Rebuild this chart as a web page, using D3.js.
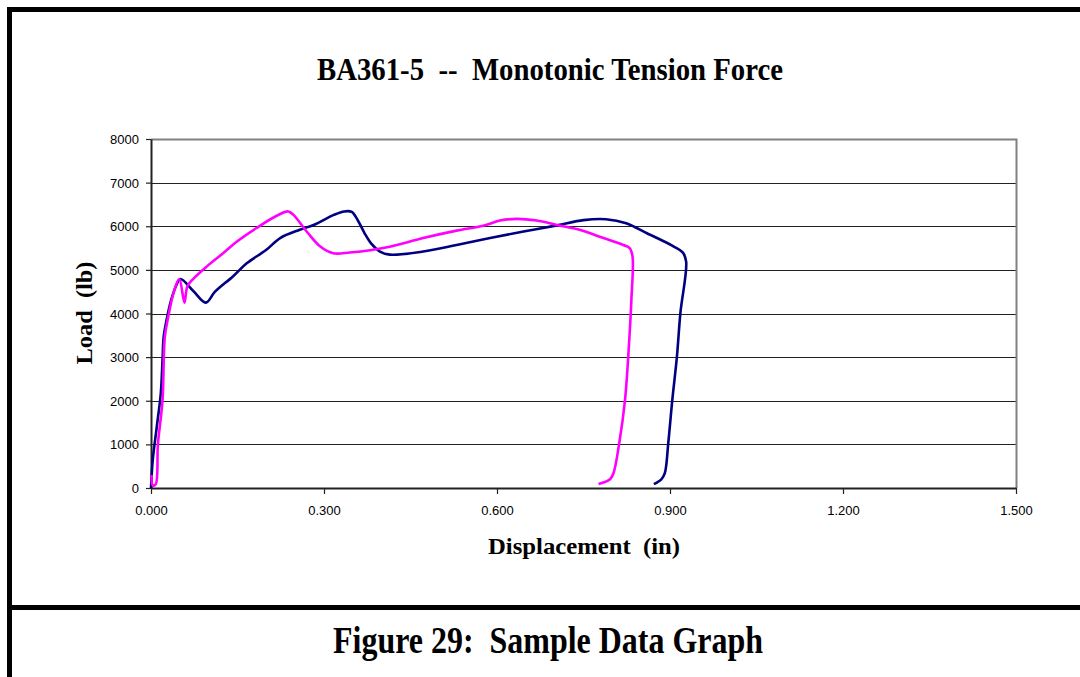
<!DOCTYPE html>
<html>
<head>
<meta charset="utf-8">
<script src="https://cdn.jsdelivr.net/npm/d3@7"></script>
<style>
  body { margin: 0; background: #fff; }
  svg { display: block; }
  text { white-space: pre; }
</style>
</head>
<body>
<div id="box"></div>
<script>
// Navy curve (first specimen)
var dispNavy = [0.000, 0.003, 0.010, 0.017, 0.020, 0.022, 0.027, 0.035, 0.043, 0.051, 0.073, 0.095,
    0.111, 0.142, 0.166, 0.200, 0.224, 0.258, 0.282, 0.317, 0.335, 0.348, 0.358, 0.370, 0.382,
    0.397, 0.414, 0.472, 0.530, 0.588, 0.646, 0.704, 0.750, 0.789, 0.824, 0.860, 0.906, 0.922,
    0.928, 0.918, 0.912, 0.904, 0.897, 0.891, 0.885, 0.872];
var loadNavy = [0, 640, 1400, 2170, 2940, 3470, 3850, 4310, 4620, 4790, 4520, 4250,
    4500, 4850, 5150, 5460, 5730, 5920, 6030, 6260, 6340, 6330, 6150, 5850, 5600,
    5420, 5350, 5420, 5570, 5730, 5880, 6020, 6140, 6160, 6070, 5840, 5540, 5400,
    5190, 4010, 3010, 2020, 1030, 340, 200, 90];

// Magenta curve (second specimen)
var dispPink = [0.001, 0.003, 0.008, 0.012, 0.020, 0.024, 0.030, 0.039, 0.049, 0.058, 0.063, 0.073,
    0.097, 0.125, 0.149, 0.183, 0.218, 0.238, 0.247, 0.270, 0.293, 0.316, 0.345, 0.380, 0.414,
    0.472, 0.530, 0.576, 0.605, 0.634, 0.669, 0.704, 0.743, 0.778, 0.819, 0.830, 0.835, 0.833,
    0.829, 0.822, 0.812, 0.802, 0.796, 0.776];
var loadPink = [300, 60, 80, 1000, 2020, 3470, 3930, 4465, 4790, 4250, 4620, 4790,
    5080, 5380, 5650, 5960, 6240, 6340, 6260, 5880, 5540, 5380, 5400, 5450, 5530,
    5730, 5900, 6010, 6130, 6170, 6130, 6030, 5920, 5760, 5570, 5500, 5310, 4310,
    3320, 2020, 1030, 340, 200, 90];

var xTicks = [0, 0.3, 0.6, 0.9, 1.2, 1.5];
var yTicks = [0, 1000, 2000, 3000, 4000, 5000, 6000, 7000, 8000];

var chartTitle = "BA361-5  --  Monotonic Tension Force";
var xTitle = "Displacement  (in)";
var yTitle = "Load  (lb)";
var caption = "Figure 29:  Sample Data Graph";

var W = 1080, H = 677;
var svg = d3.select("#box").append("svg")
    .attr("width", W)
    .attr("height", H);

var plotLeft = 151, plotRight = 1016, plotTop = 139, plotBottom = 488;

var x = d3.scaleLinear().domain([0, 1.5]).range([plotLeft, plotRight]);
var y = d3.scaleLinear().domain([0, 8000]).range([plotBottom, plotTop]);

// frame around the figure
svg.append("line").attr("x1", 9.5).attr("x2", 9.5).attr("y1", 7).attr("y2", H)
    .attr("stroke", "#000").attr("stroke-width", 5);
svg.append("line").attr("x1", 7).attr("x2", W).attr("y1", 9.5).attr("y2", 9.5)
    .attr("stroke", "#000").attr("stroke-width", 5);
svg.append("line").attr("x1", 7).attr("x2", W).attr("y1", 607.5).attr("y2", 607.5)
    .attr("stroke", "#000").attr("stroke-width", 5);

// grid lines
svg.append("g")
    .selectAll("line")
    .data(yTicks.filter(function(d) { return d > 0 && d < 8000; }))
    .enter().append("line")
    .attr("x1", plotLeft).attr("x2", plotRight)
    .attr("y1", function(d) { return Math.round(y(d)) + 0.5; })
    .attr("y2", function(d) { return Math.round(y(d)) + 0.5; })
    .attr("stroke", "#222")
    .attr("stroke-width", 1);

// plot frame (top and right in gray)
svg.append("path")
    .attr("d", "M" + plotLeft + "," + (plotTop + 0.5) + "H" + (plotRight + 0.5) + "V" + plotBottom)
    .attr("fill", "none")
    .attr("stroke", "#808080")
    .attr("stroke-width", 2);

// axes
var xAxis = d3.axisBottom(x).tickValues(xTicks).tickFormat(d3.format(".3f")).tickSizeInner(6).tickSizeOuter(0);
var yAxis = d3.axisLeft(y).tickValues(yTicks).tickFormat(d3.format("d")).tickSizeInner(5).tickSizeOuter(0);

var gx = svg.append("g").attr("transform", "translate(0," + plotBottom + ")").call(xAxis);
var gy = svg.append("g").attr("transform", "translate(" + plotLeft + ",0)").call(yAxis);

[gx, gy].forEach(function(g) {
    g.select(".domain").attr("stroke", "#222").attr("stroke-width", 2);
    g.selectAll(".tick line").attr("stroke", "#222").attr("stroke-width", 1.2);
    g.selectAll(".tick text")
        .attr("font-family", "Liberation Sans, Arial, sans-serif")
        .attr("font-size", 13)
        .attr("fill", "#000");
});
gx.selectAll(".tick text").attr("dy", "0").attr("y", 27);
gy.selectAll(".tick text").attr("x", -12).attr("dy", "0.35em");

// curves
var line = d3.line()
    .x(function(d) { return x(d[0]); })
    .y(function(d) { return y(d[1]); })
    .curve(d3.curveCatmullRom.alpha(0.5));

var navy = d3.zip(dispNavy, loadNavy);
var pink = d3.zip(dispPink, loadPink);

svg.append("path").datum(navy)
    .attr("d", line)
    .attr("fill", "none")
    .attr("stroke", "#000080")
    .attr("stroke-width", 2.6)
    .attr("stroke-linejoin", "round");

svg.append("path").datum(pink)
    .attr("d", line)
    .attr("fill", "none")
    .attr("stroke", "#ff00ff")
    .attr("stroke-width", 2.6)
    .attr("stroke-linejoin", "round");

// texts
var serif = "Liberation Serif, Times New Roman, serif";

svg.append("text")
    .attr("x", 550).attr("y", 80)
    .attr("text-anchor", "middle")
    .attr("font-family", serif).attr("font-weight", "bold").attr("font-size", 31)
    .attr("textLength", 466).attr("lengthAdjust", "spacingAndGlyphs")
    .text(chartTitle);

svg.append("text")
    .attr("x", 584).attr("y", 554)
    .attr("text-anchor", "middle")
    .attr("font-family", serif).attr("font-weight", "bold").attr("font-size", 24)
    .attr("textLength", 192).attr("lengthAdjust", "spacingAndGlyphs")
    .text(xTitle);

svg.append("text")
    .attr("transform", "translate(92,313) rotate(-90)")
    .attr("text-anchor", "middle")
    .attr("font-family", serif).attr("font-weight", "bold").attr("font-size", 24)
    .attr("textLength", 103).attr("lengthAdjust", "spacingAndGlyphs")
    .text(yTitle);

svg.append("text")
    .attr("x", 548).attr("y", 653)
    .attr("text-anchor", "middle")
    .attr("font-family", serif).attr("font-weight", "bold").attr("font-size", 38)
    .attr("textLength", 430).attr("lengthAdjust", "spacingAndGlyphs")
    .text(caption);
</script>
</body>
</html>
